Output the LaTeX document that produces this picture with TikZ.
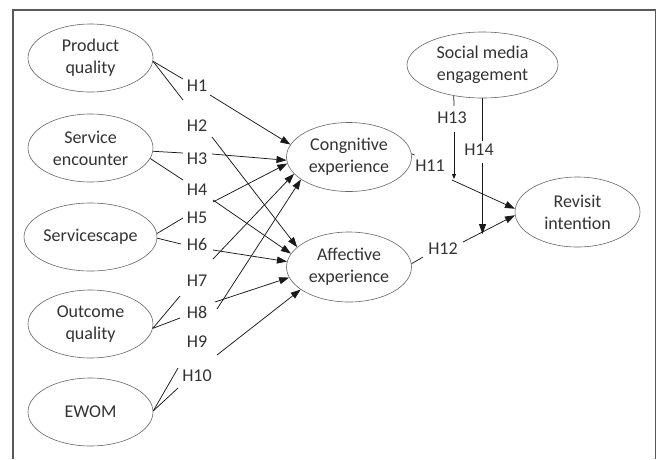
\documentclass[tikz,border=0pt]{standalone}
\usepackage{fontspec}
\setmainfont{Carlito}
\usetikzlibrary{shapes.geometric,arrows.meta}
\begin{document}
\begin{tikzpicture}[x=1pt,y=-1pt,
  construct/.style={ellipse,draw=black!60,line width=0.6pt,fill=white,minimum width=125pt,minimum height=68pt,inner sep=0pt,align=center,font=\fontsize{18}{22}\selectfont,text=black!80},
  hyp/.style={inner sep=0pt,font=\fontsize{18}{22}\selectfont,text=black!80},
  link/.style={line width=0.75pt,draw=black!90},
  arr/.style={link,-{Triangle[length=10pt,width=7pt]}},
  sarr/.style={link,-{Triangle[length=5pt,width=4pt]}}]
\useasboundingbox (0,0) rectangle (660,459);
% frame
\draw[line width=1.3pt,black!65] (13,459) -- (13,10) -- (655.5,10) -- (655.5,459);

% constructs
\node[construct] (pq) at (90.5,58) {Product\\quality};
\node[construct] (se) at (90.5,148) {Service\\encounter};
\node[construct] (ss) at (90.5,237) {Servicescape};
\node[construct] (oq) at (90.5,324) {Outcome\\quality};
\node[construct] (ew) at (90.5,412) {EWOM};
\node[construct,minimum height=69pt] (cog) at (349,157) {Congnitive\\experience};
\node[construct,minimum height=70pt] (aff) at (349,267) {Affective\\experience};
\node[construct,minimum width=151pt,minimum height=66pt] (sme) at (482.5,65) {Social media\\engagement};
\node[construct,minimum height=70pt] (ri) at (577.5,212) {Revisit\\intention};

% hypothesis labels
\node[hyp] (h1) at (197,86) {H1};
\node[hyp] (h2) at (197,126) {H2};
\node[hyp] (h3) at (197,159) {H3};
\node[hyp] (h4) at (197,190) {H4};
\node[hyp] (h5) at (197,218) {H5};
\node[hyp] (h6) at (197,244) {H6};
\node[hyp] (h7) at (197,281) {H7};
\node[hyp] (h8) at (197,312) {H8};
\node[hyp] (h9) at (197,342) {H9};
\node[hyp] (h10) at (197,376) {H10};
\node[hyp] (h11) at (430,166) {H11};
\node[hyp] (h12) at (443,249) {H12};
\node[hyp] (h13) at (452,118) {H13};
\node[hyp] (h14) at (479,150) {H14};

% line ends beside the labels
\coordinate (h1i) at (183,79);   \coordinate (h1o) at (210,95);
\coordinate (h2i) at (183,100);  \coordinate (h2o) at (212,137);
\coordinate (h3i) at (183,153);  \coordinate (h3o) at (212,154);
\coordinate (h4i) at (183,180);  \coordinate (h4o) at (213,200);
\coordinate (h5i) at (183,218);  \coordinate (h5o) at (213,202);
\coordinate (h6i) at (181,244);  \coordinate (h6o) at (213,250);
\coordinate (h7i) at (180,296);  \coordinate (h7o) at (213,259);
\coordinate (h8i) at (180,318);  \coordinate (h8o) at (215,302);
\coordinate (h8p) at (217,309);
\coordinate (h9o) at (217,355);
\coordinate (h10i) at (178,368); \coordinate (h10j) at (178,388);
\coordinate (h11i) at (414.5,155); \coordinate (h11o) at (452,180);
\coordinate (h12i) at (423,257); \coordinate (h12o) at (463,242);
\coordinate (h13i) at (454,106); \coordinate (h13o) at (454,132); \coordinate (h13t) at (454,179);
\coordinate (h14i) at (482.5,141); \coordinate (h14o) at (482.5,163); \coordinate (h14t) at (482.5,234);

% left paths
\draw[link] (pq.-3) -- (h1i);
\draw[arr] (h1o) -- (cog.168);
\draw[link] (pq.-3) -- (h2i);
\draw[arr] (h2o) -- (aff.159);
\draw[link] (se.-3) -- (h3i);
\draw[arr] (h3o) -- (cog.183);
\draw[link] (se.-10) -- (h4i);
\draw[arr] (h4o) -- (aff.167);
\draw[link] (ss.3) -- (h5i);
\draw[arr] (h5o) -- (cog.186);
\draw[link] (ss.-1) -- (h6i);
\draw[arr] (h6o) -- (aff.175);
\draw[link] (oq.-4) -- (h7i);
\draw[arr] (h7o) -- (cog.197);
\draw[link] (oq.-4) -- (h8i);
\draw[arr] (h8o) -- (aff.190);
\draw[arr] (h8p) -- (cog.205);
\draw[arr] (h9o) -- (aff.205);
\draw[link] (ew.1) -- (h10i);
\draw[link] (ew.1) -- (h10j);

% right paths
\draw[link] (cog.3) -- (h11i);
\draw[arr] (h11o) -- (ri.177);
\draw[link] (aff.3) -- (h12i);
\draw[arr] (h12o) -- (ri.183);
\draw[link] (sme.-133.6) -- (h13i);
\draw[sarr] (h13o) -- (h13t);
\draw[link] (sme.south) -- (h14i);
\draw[arr] (h14o) -- (h14t);
\end{tikzpicture}
\end{document}
